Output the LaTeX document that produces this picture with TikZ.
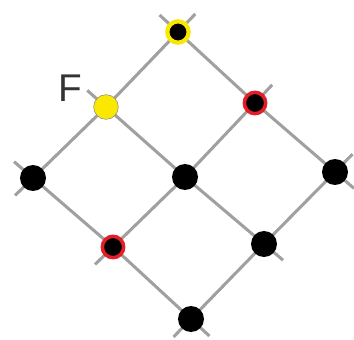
\documentclass[tikz,border=0pt]{standalone}
\usepackage{fontspec}
\setsansfont{Liberation Sans}
\definecolor{ylw}{RGB}{250,232,0}
\definecolor{rd}{RGB}{228,30,40}
\definecolor{grid}{RGB}{160,160,160}
\begin{document}
\begin{tikzpicture}[x=0.03cm, y=-0.03cm,
    lattice/.style={draw=grid, line width=2.6pt, shorten <=-0.75cm, shorten >=-0.75cm},
    dot/.style={circle, fill=black, inner sep=0pt, minimum size=0.78cm},
    yring/.style={circle, fill=black, draw=ylw, line width=3.6pt, inner sep=0pt, minimum size=0.64cm},
    rring/.style={circle, fill=black, draw=rd, line width=3pt, inner sep=0pt, minimum size=0.64cm},
    yfill/.style={circle, fill=ylw, draw=black!50, line width=0.4pt, inner sep=0pt, minimum size=0.74cm}]
  \useasboundingbox (0,0) rectangle (354,340);

  \coordinate (Top) at (178, 32);
  \coordinate (F) at (106, 107);
  \coordinate (Lft) at (33, 178);
  \coordinate (Rup) at (255, 103);
  \coordinate (C) at (185, 177);
  \coordinate (Rlo) at (113, 247);
  \coordinate (Rgt) at (335, 172);
  \coordinate (Blo) at (264, 244);
  \coordinate (Bot) at (191, 319);

  % grid lines
  \draw[lattice] (Top) -- (F) -- (Lft);
  \draw[lattice] (Rup) -- (C) -- (Rlo);
  \draw[lattice] (Rgt) -- (Blo) -- (Bot);
  \draw[lattice] (Top) -- (Rup) -- (Rgt);
  \draw[lattice] (F) -- (C) -- (Blo);
  \draw[lattice] (Lft) -- (Rlo) -- (Bot);

  % lattice points
  \node[yring] (nTop) at (Top) {};
  \node[yfill] (nF) at (F) {};
  \node[rring] (nRup) at (Rup) {};
  \node[dot] (nLft) at (Lft) {};
  \node[dot] (nC) at (C) {};
  \node[dot] (nRgt) at (Rgt) {};
  \node[rring] (nRlo) at (Rlo) {};
  \node[dot] (nBlo) at (Blo) {};
  \node[dot] (nBot) at (Bot) {};

  \node[text=black!80, font=\sffamily\fontsize{33}{33}\selectfont] (lF) at (70, 88) {F};
\end{tikzpicture}
\end{document}
